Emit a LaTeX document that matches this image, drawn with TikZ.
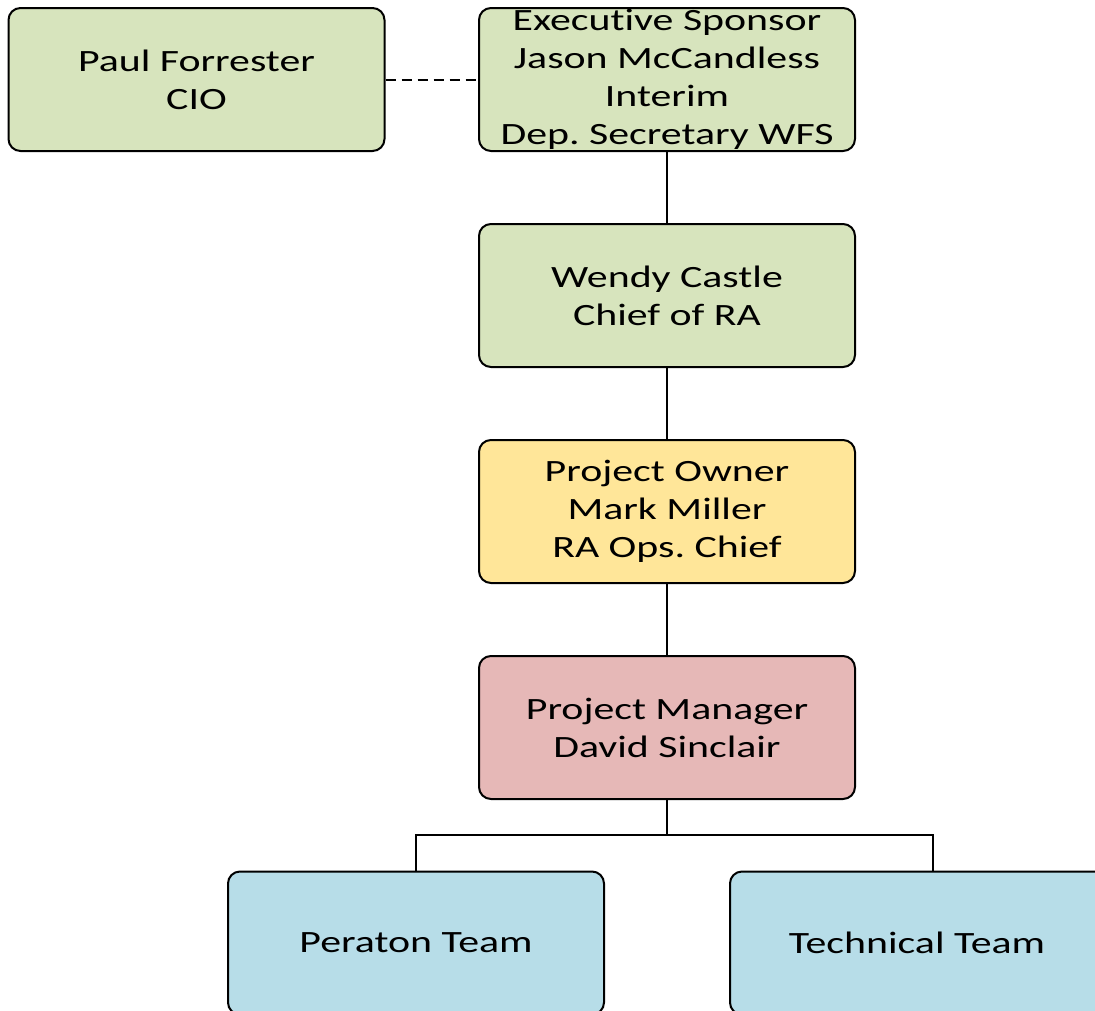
\documentclass[tikz,border=0pt]{standalone}
\usepackage{fontspec}
\setmainfont{Carlito}[FakeStretch=1.35, Ligatures={NoCommon}]
\frenchspacing
\begin{document}
\begin{tikzpicture}[x=1pt,y=-1pt,
  box/.style={draw=black, line width=2pt, rounded corners=12pt,
    minimum width=376pt, minimum height=143pt, inner sep=0pt,
    align=center, font=\fontsize{31}{38}\selectfont},
  link/.style={draw=black, line width=2pt},
  dotlink/.style={draw=black, line width=2pt, dash pattern=on 10pt off 6pt}]
\definecolor{sage}{RGB}{215,228,189}
\definecolor{butter}{RGB}{255,230,153}
\definecolor{rose}{RGB}{230,184,183}
\definecolor{sky}{RGB}{183,221,232}
\clip (0,0) rectangle (1095,1010);
\fill[white] (0,0) rectangle (1095,1010);

% top row
\node[box, fill=sage] (paul) at (196.5,79.5) {Paul Forrester\\CIO};
\node[box, fill=sage] (exec) at (667,79.5) {Executive Sponsor\\Jason McCandless\\Interim\\Dep. Secretary WFS};

% reporting chain
\node[box, fill=sage] (wendy) at (667,295.5) {Wendy Castle\\Chief of RA};
\node[box, fill=butter] (owner) at (667,511.5) {Project Owner\\Mark Miller\\RA Ops. Chief};
\node[box, fill=rose] (pm) at (667,727.5) {Project Manager\\David Sinclair};

% teams
\node[box, fill=sky] (peraton) at (416,943) {Peraton Team};
\node[box, fill=sky, minimum width=400pt] (tech) at (930,943) {};
\node[font=\fontsize{31}{38}\selectfont] (techlbl) at (917,943) {Technical Team};

% connectors
\draw[dotlink] (paul.east) -- (exec.west);
\draw[link] (exec.south) -- (wendy.north);
\draw[link] (wendy.south) -- (owner.north);
\draw[link] (owner.south) -- (pm.north);
\coordinate (split) at (667,835);
\coordinate (techtop) at (933,871);
\draw[link] (pm.south) -- (split);
\draw[link] (peraton.north) |- (split) -| (techtop);
\end{tikzpicture}
\end{document}
